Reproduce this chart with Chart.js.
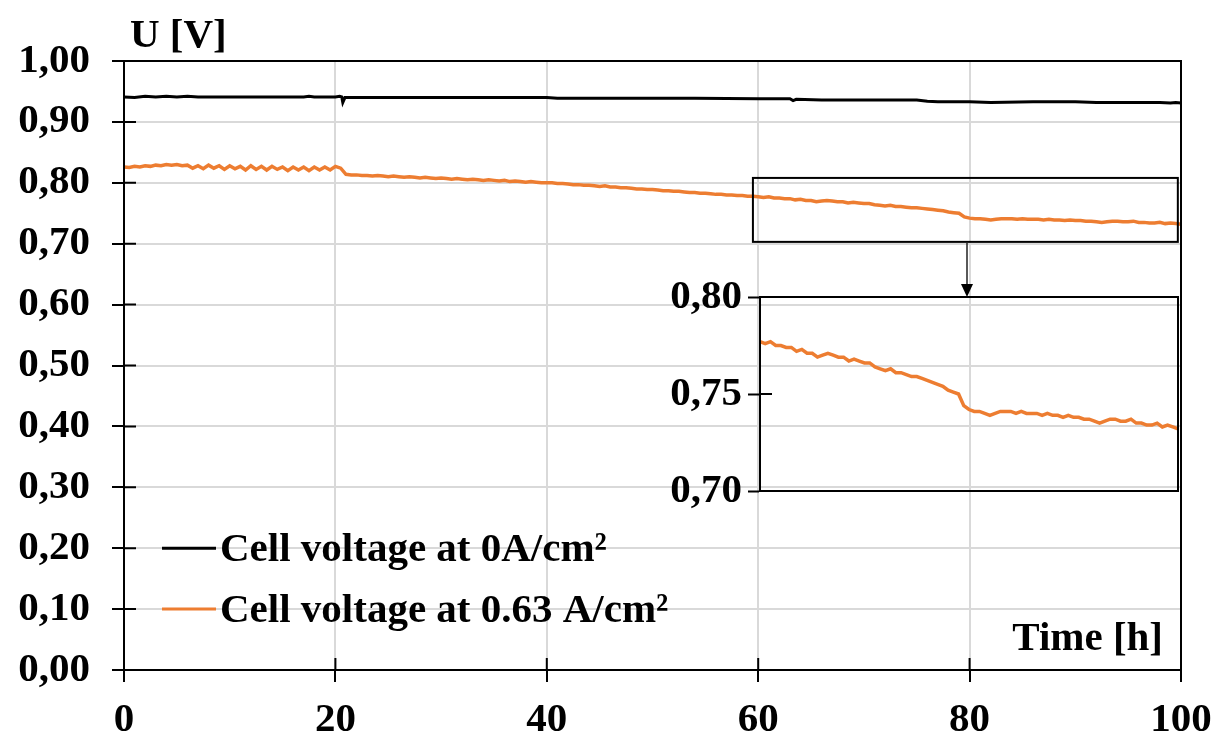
<!DOCTYPE html>
<html><head><meta charset="utf-8">
<script src="https://cdn.jsdelivr.net/npm/chart.js@4.4.1/dist/chart.umd.min.js"></script>
<style>
html,body{margin:0;padding:0;background:#fff;}
#wrap{position:relative;width:1221px;height:738px;overflow:hidden;}
#main{position:absolute;left:0;top:0;}
#inset{position:absolute;left:640px;top:230px;}
</style></head><body>
<div id="wrap"><canvas id="main" width="1221" height="738" style="width:1221px;height:738px"></canvas><canvas id="inset" width="560" height="290" style="width:560px;height:290px"></canvas></div>
<script>
// ---------- DATA ----------
const seriesLabels = ['Cell voltage at 0A/cm\u00B2', 'Cell voltage at 0.63 A/cm\u00B2'];
const yTickLabels = ['0,00','0,10','0,20','0,30','0,40','0,50','0,60','0,70','0,80','0,90','1,00'];
const xTickLabels = ['0','20','40','60','80','100'];
const insetTickLabels = ['0,70','0,75','0,80'];

// Cell voltage at 0 A/cm2 (time [h], U [V])
const blackTime = [0,1,2,3,4,5,6,7,8,10,14,17,17.5,18,20,20.4,20.6,20.7,20.9,24,30,36,40,41,44,50,54,60,62,63,63.3,63.6,66,70,75,76,77,80,82,86,90,92,94,96,98,99,99.5,100];
const blackV    = [0.941,0.940,0.942,0.941,0.942,0.941,0.942,0.941,0.941,0.941,0.941,0.941,0.942,0.941,0.941,0.942,0.941,0.932,0.940,0.940,0.940,0.940,0.940,0.939,0.939,0.939,0.939,0.938,0.938,0.938,0.935,0.937,0.936,0.936,0.936,0.934,0.933,0.933,0.932,0.933,0.933,0.932,0.932,0.932,0.932,0.931,0.932,0.931];

// Cell voltage at 0.63 A/cm2, sampled every 0.5 h from 0 h to 100 h
const orangeStep = 0.5;
const orangeV = [
 0.826,0.825,0.827,0.826,0.828,0.827,0.829,0.828,0.830,0.829,0.830,0.828,0.829,0.824,0.828,0.823,0.829,0.824,0.828,0.822,
 0.828,0.823,0.827,0.821,0.828,0.822,0.827,0.821,0.827,0.822,0.826,0.820,0.826,0.821,0.826,0.820,0.826,0.821,0.826,0.821,
 0.827,0.824,0.814,0.813,0.813,0.812,0.812,0.811,0.812,0.811,0.810,0.811,0.810,0.809,0.810,0.809,0.808,0.809,0.808,0.807,
 0.808,0.807,0.806,0.807,0.806,0.805,0.806,0.805,0.804,0.805,0.804,0.803,0.804,0.802,0.803,0.802,0.801,0.802,0.801,0.800,
 0.800,0.800,0.799,0.799,0.798,0.797,0.797,0.796,0.796,0.795,0.794,0.795,0.793,0.793,0.792,0.792,0.791,0.790,0.790,0.789,
 0.789,0.788,0.787,0.787,0.786,0.786,0.785,0.784,0.784,0.783,0.783,0.782,0.781,0.781,0.780,0.780,0.779,0.779,0.778,0.778,
 0.777,0.776,0.777,0.775,0.775,0.774,0.774,0.772,0.773,0.771,0.771,0.769,0.770,0.771,0.770,0.769,0.769,0.767,0.768,0.767,
 0.766,0.766,0.764,0.763,0.762,0.763,0.761,0.761,0.760,0.759,0.759,0.758,0.757,0.756,0.755,0.754,0.752,0.751,0.750,0.744,
 0.742,0.741,0.741,0.740,0.739,0.740,0.741,0.741,0.741,0.740,0.741,0.740,0.740,0.740,0.739,0.740,0.739,0.739,0.738,0.739,
 0.738,0.738,0.737,0.737,0.736,0.735,0.736,0.737,0.737,0.736,0.736,0.737,0.735,0.735,0.734,0.734,0.735,0.733,0.734,0.733,
 0.732
];

// Zoom window shown in the inset
const zoomX = [59.5, 99.7];
const zoomY = [0.703, 0.808];
const insetX = [60, 100];
const insetY = [0.70, 0.80];
const arrowAt = 80;

// ---------- BUILD ----------
const blackPts = blackTime.map((t,i)=>({x:t, y:blackV[i]}));
const orangePts = orangeV.map((v,i)=>({x:i*orangeStep, y:v}));
const insetPts = orangePts.filter(p=>p.x>=insetX[0] && p.x<=insetX[1]);

const FONT_FAMILY = '"Liberation Serif","Times New Roman",serif';
const font40 = {family:FONT_FAMILY, size:41, weight:'bold'};
const BLACK = '#000000', ORANGE = '#ED7D31', GRID = '#d9d9d9';

const mainPlugin = {
  id:'mainDecor',
  afterDraw(chart){
    const {ctx, chartArea:a, scales:{x,y}} = chart;
    ctx.save();
    ctx.strokeStyle = BLACK; ctx.lineWidth = 2;
    // frame
    ctx.strokeRect(a.left, a.top, a.right-a.left, a.bottom-a.top);
    // inner tick halves
    ctx.beginPath();
    y.ticks.forEach(t=>{ const p=y.getPixelForValue(t.value); ctx.moveTo(a.left,p); ctx.lineTo(a.left+12,p); });
    x.ticks.forEach(t=>{ const p=x.getPixelForValue(t.value); ctx.moveTo(p,a.bottom); ctx.lineTo(p,a.bottom-12); });
    ctx.stroke();
    // zoom rectangle
    const rx0=x.getPixelForValue(zoomX[0]), rx1=x.getPixelForValue(zoomX[1]);
    const ry0=y.getPixelForValue(zoomY[1]), ry1=y.getPixelForValue(zoomY[0]);
    ctx.strokeRect(rx0, ry0, rx1-rx0, ry1-ry0);
    // legend
    ctx.font = 'bold 41px ' + FONT_FAMILY;
    ctx.textBaseline = 'middle'; ctx.textAlign = 'left';
    const legendY = [0.20, 0.10];
    chart.data.datasets.forEach((ds,i)=>{
      const py = y.getPixelForValue(legendY[i]);
      ctx.strokeStyle = ds.borderColor; ctx.lineWidth = 3;
      ctx.beginPath(); ctx.moveTo(162,py); ctx.lineTo(216,py); ctx.stroke();
      ctx.fillStyle = BLACK;
      ctx.fillText(ds.label, 220, py+2);
    });
    // axis titles
    ctx.fillStyle = BLACK;
    ctx.textBaseline = 'alphabetic';
    ctx.fillText('U [V]', 130, 47);
    ctx.textAlign = 'right';
    ctx.fillText('Time [h]', 1163, 650);
    ctx.restore();
  }
};

new Chart(document.getElementById('main'), {
  type:'line',
  data:{datasets:[
    {label:seriesLabels[0], data:blackPts, borderColor:BLACK, borderWidth:3, pointRadius:0, tension:0},
    {label:seriesLabels[1], data:orangePts, borderColor:ORANGE, borderWidth:3.5, pointRadius:0, tension:0}
  ]},
  options:{
    responsive:false, animation:false, devicePixelRatio:1,
    layout:{padding:{left:0, top:61, right:40, bottom:0}},
    plugins:{legend:{display:false}, tooltip:{enabled:false}},
    scales:{
      x:{type:'linear', min:0, max:100,
         afterFit(s){ s.height = 68; s.paddingLeft = 0; s.paddingRight = 0; },
         ticks:{stepSize:20, color:BLACK, font:font40, padding:14, maxRotation:0,
                callback:(v,i)=>xTickLabels[i]},
         grid:{color:GRID, lineWidth:2, tickColor:BLACK, tickWidth:2, tickLength:12},
         border:{color:BLACK, width:2}},
      y:{min:0, max:1,
         afterFit(s){ s.width = 124; s.paddingTop = 0; s.paddingBottom = 0; },
         ticks:{stepSize:0.1, color:BLACK, font:font40, padding:22,
                callback:(v,i)=>yTickLabels[i]},
         grid:{color:GRID, lineWidth:2, tickColor:BLACK, tickWidth:2, tickLength:12},
         border:{color:BLACK, width:2}}
    }
  },
  plugins:[mainPlugin]
});

const insetPlugin = {
  id:'insetDecor',
  afterDraw(chart){
    const {ctx, chartArea:a, scales:{x,y}} = chart;
    ctx.save();
    ctx.strokeStyle = BLACK; ctx.lineWidth = 2;
    ctx.strokeRect(a.left, a.top, a.right-a.left, a.bottom-a.top);
    ctx.beginPath();
    y.ticks.forEach(t=>{ const p=y.getPixelForValue(t.value); ctx.moveTo(a.left,p); ctx.lineTo(a.left+12,p); });
    ctx.stroke();
    // arrow
    const ax = x.getPixelForValue(arrowAt) - 2;
    ctx.lineWidth = 1.5; ctx.strokeStyle = '#222';
    ctx.beginPath(); ctx.moveTo(ax, a.top-54); ctx.lineTo(ax, a.top-12); ctx.stroke();
    ctx.fillStyle = BLACK;
    ctx.beginPath(); ctx.moveTo(ax-6, a.top-13); ctx.lineTo(ax+6, a.top-13); ctx.lineTo(ax, a.top); ctx.closePath(); ctx.fill();
    ctx.restore();
  }
};

new Chart(document.getElementById('inset'), {
  type:'line',
  data:{datasets:[{label:seriesLabels[1], data:insetPts, borderColor:ORANGE, borderWidth:3.5, pointRadius:0, tension:0}]},
  options:{
    responsive:false, animation:false, devicePixelRatio:1,
    layout:{padding:{left:0, top:67, right:22, bottom:29}},
    plugins:{legend:{display:false}, tooltip:{enabled:false}},
    scales:{
      x:{type:'linear', min:insetX[0], max:insetX[1], display:false},
      y:{min:insetY[0], max:insetY[1],
         afterFit(s){ s.width = 120; s.paddingTop = 0; s.paddingBottom = 0; },
         ticks:{stepSize:0.05, color:BLACK, font:font40, padding:6,
                callback:(v,i)=>insetTickLabels[i]},
         grid:{drawOnChartArea:false, color:BLACK, tickColor:BLACK, tickWidth:2, tickLength:12},
         border:{color:BLACK, width:2}}
    }
  },
  plugins:[insetPlugin]
});
</script>
</body></html>
